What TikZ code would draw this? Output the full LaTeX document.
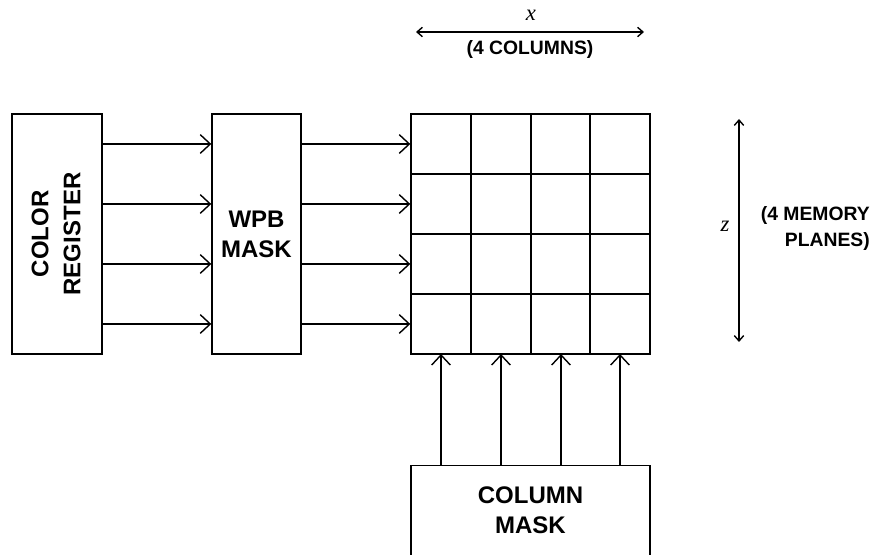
\documentclass[tikz,border=0pt]{standalone}
\usepackage{fontspec}
\setmainfont{Liberation Sans}
\newfontfamily\serifit{Liberation Serif}
\usetikzlibrary{arrows.meta}
\tikzset{
  box/.style={draw, line width=1.05pt, inner sep=0pt, font=\bfseries\fontsize{18}{22.5}\selectfont, align=center},
  arr/.style={line width=1.05pt, -{Straight Barb[length=7.5pt,width=14pt,line width=1.05pt]}},
  darr/.style={line width=1.05pt, {Straight Barb[length=4pt,width=7pt,line width=1.05pt]}-{Straight Barb[length=4pt,width=7pt,line width=1.05pt]}},
  lab/.style={font=\bfseries\fontsize{14.5}{19.5}\selectfont, inner sep=0pt},
  var/.style={font=\serifit\itshape\fontsize{17}{20}\selectfont, inner sep=0pt},
  cell/.style={line width=1.05pt}
}
\begin{document}
\begin{tikzpicture}[x=0.75pt,y=-0.75pt]
\clip (0,0) rectangle (872,555);
\fill[white] (0,0) rectangle (872,555);
% blocks
\node[box, minimum width=67.5pt, minimum height=180pt] (colreg) at (57,234) {};
\node[font=\bfseries\fontsize{18}{24}\selectfont, align=center, rotate=90, inner sep=0pt] (colregtxt) at (56,234) {COLOR\\REGISTER};
\node[box, minimum width=66.75pt, minimum height=180pt] (wpb) at (256.5,234) {WPB\\MASK};
\node[box, minimum width=179.25pt, minimum height=180pt] (grid) at (530.5,234) {};
\node[box, minimum width=179.25pt, minimum height=101.25pt, anchor=north] (cmask) at (530.5,465) {};
\node[font=\bfseries\fontsize{18}{22.5}\selectfont, align=center, inner sep=0pt] (cmasktxt) at (530.5,510) {COLUMN\\MASK};
% grid lines
\foreach \gx in {471,531,590}{\draw[cell] (grid.north -| \gx,0) -- (grid.south -| \gx,0);}
\foreach \gy in {174,234,294}{\draw[cell] (grid.west |- 0,\gy) -- (grid.east |- 0,\gy);}
% row coordinates
\coordinate (r1) at (411,144);
\coordinate (r2) at (411,204);
\coordinate (r3) at (411,264);
\coordinate (r4) at (411,324);
\foreach \r in {r1,r2,r3,r4}{
  \draw[arr] (colreg.east |- \r) -- (wpb.west |- \r);
  \draw[arr] (wpb.east |- \r) -- (grid.west |- \r);
}
% column coordinates
\coordinate (c1) at (441,354);
\coordinate (c2) at (501,354);
\coordinate (c3) at (561,354);
\coordinate (c4) at (620,354);
\foreach \c in {c1,c2,c3,c4}{
  \draw[arr] (cmask.north -| \c) -- (\c);
}
% x dimension
\coordinate (xl) at (416,32);
\coordinate (xr) at (644,32);
\draw[darr] (xl) -- (xr);
\node[var] (xlab) at (531,15) {x};
\node[lab] (xcols) at (530,50) {(4 COLUMNS)};
% z dimension
\coordinate (zt) at (739,119);
\coordinate (zb) at (739,342);
\draw[darr] (zt) -- (zb);
\node[var] (zlab) at (725,226) {z};
\node[lab, align=right, anchor=east] (zplanes) at (870,229) {(4 MEMORY\\PLANES)};
\end{tikzpicture}
\end{document}
